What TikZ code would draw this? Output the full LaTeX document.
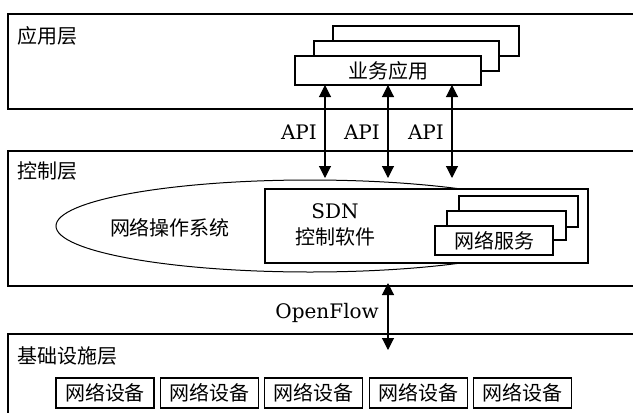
\documentclass[tikz,border=0pt]{standalone}
\usepackage{fontspec}
\setmainfont{DejaVu Serif}
\newfontfamily\cjk{Noto Sans CJK SC}
\usetikzlibrary{arrows.meta}
\tikzset{
  box/.style={draw, line width=1.1pt, fill=white, inner sep=0pt, outer sep=0pt, anchor=north west},
  cjktext/.style={font=\cjk\fontsize{20}{24}\selectfont, inner sep=0pt},
  lattext/.style={font=\fontsize{20}{24}\selectfont, inner sep=0pt},
  biarrow/.style={line width=1.1pt, {Triangle[length=12pt,width=12pt]}-{Triangle[length=12pt,width=12pt]}}
}
\begin{document}
\begin{tikzpicture}[x=1pt,y=-1pt]
\useasboundingbox (0,0) rectangle (633,413);
\clip (0,0) rectangle (633,413);
\fill[white] (0,0) rectangle (633,413);
% layers
\node[box, minimum width=640pt, minimum height=95pt] (app) at (8,14) {};
\node[box, minimum width=640pt, minimum height=135pt] (ctrl) at (8,151) {};
\node[box, minimum width=640pt, minimum height=90pt] (infra) at (8,334) {};
\node[cjktext, anchor=west] (lapp) at (17,36) {应用层};
\node[cjktext, anchor=west] (lctrl) at (17,171) {控制层};
\node[cjktext, anchor=west] (linfra) at (17,356) {基础设施层};
% business apps
\node[box, minimum width=186pt, minimum height=30pt] (appc) at (333,26) {};
\node[box, minimum width=185pt, minimum height=30pt] (appb) at (314,41) {};
\node[box, minimum width=186pt, minimum height=29pt] (appa) at (295,56) {};
\node[cjktext] (appt) at (388,71) {业务应用};
% control
\draw[line width=1pt, fill=white] (310,226) ellipse [x radius=254, y radius=46];
\node[cjktext] (nos) at (170,228) {网络操作系统};
\node[box, minimum width=323pt, minimum height=74pt] (sdn) at (265,189) {};
\node[lattext] (sdnt) at (335,211) {SDN};
\node[cjktext] (sdnc) at (335,237) {控制软件};
\node[box, minimum width=119pt, minimum height=31pt] (svcc) at (459,196) {};
\node[box, minimum width=119pt, minimum height=29pt] (svcb) at (447,211) {};
\node[box, minimum width=118pt, minimum height=29pt] (svca) at (435,226) {};
\node[cjktext] (svct) at (494,240.5) {网络服务};
% API arrows
\coordinate (e1) at (325,178);
\coordinate (e2) at (388,178);
\coordinate (e3) at (452,178);
\draw[biarrow] (e1 |- appa.south) -- (e1);
\draw[biarrow] (e2 |- appa.south) -- (e2);
\draw[biarrow] (e3 |- appa.south) -- (e3);
\node[lattext, anchor=east] (api1) at (317,132) {API};
\node[lattext, anchor=east] (api2) at (380,132) {API};
\node[lattext, anchor=east] (api3) at (444,132) {API};
% OpenFlow
\coordinate (of1) at (388,283);
\coordinate (of2) at (388,350);
\draw[biarrow] (of1) -- (of2);
\node[lattext, anchor=east] (oft) at (379,313) {OpenFlow};
% devices
\foreach \i in {0,...,4}{
  \node[box, minimum width=98pt, minimum height=30pt] (dev\i) at ({56+\i*104.4},378) {};
  \node[cjktext] (devt\i) at ({105+\i*104.4},393) {网络设备};
}
\end{tikzpicture}
\end{document}
